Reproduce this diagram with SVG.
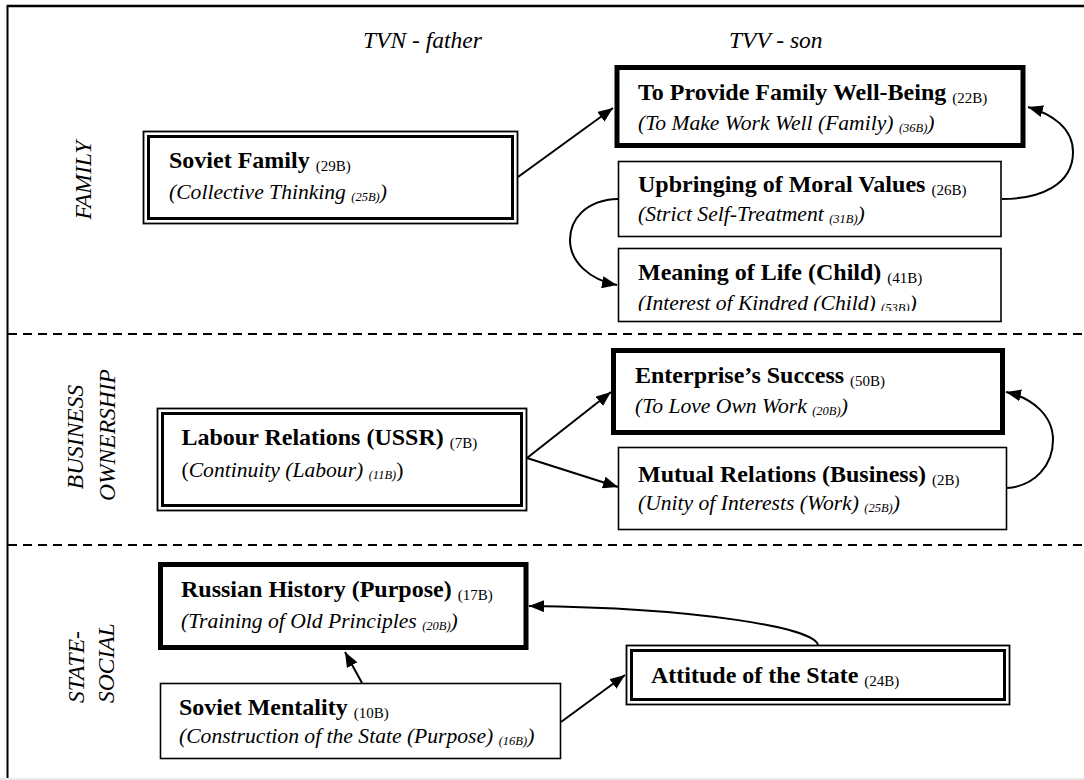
<svg xmlns="http://www.w3.org/2000/svg" width="1084" height="780" viewBox="0 0 1084 780">
<style>
text { font-family: "Liberation Serif", "Times New Roman", serif; fill: #000; }
.b { font-weight: bold; font-size: 24px; }
.s { font-size: 15px; font-style: normal; font-weight: normal; }
.i { font-style: italic; font-size: 21.6px; }
.si { font-style: italic; font-size: 12.5px; }
.up { font-style: normal; }
.lbl { font-style: italic; font-size: 23.5px; }
.thin { fill: #fff; stroke: #000; stroke-width: 1.6; }
.thick { fill: #fff; stroke: #000; stroke-width: 5; }
.dblo { fill: #fff; stroke: #000; stroke-width: 1.8; }
.dbli { fill: none; stroke: #000; stroke-width: 3; }
.con { fill: none; stroke: #000; stroke-width: 2; marker-end: url(#ah); }
.sep { stroke: #000; stroke-width: 1.8; stroke-dasharray: 9 6; }
</style>
<defs>
<marker id="ah" markerUnits="userSpaceOnUse" markerWidth="16" markerHeight="12" refX="15" refY="6" orient="auto">
<path d="M0,0 L15,6 L0,12 z" fill="#000"/>
</marker>
<clipPath id="clipMeaning"><rect x="620" y="288" width="380" height="23"/></clipPath>
</defs>
<rect x="0" y="0" width="1084" height="780" fill="#fff"/>
<rect x="0" y="778" width="1084" height="2" fill="#e9e9e9"/>
<g id="frame">
<line x1="7" y1="6" x2="1084" y2="6" stroke="#000" stroke-width="2.5"/>
<line x1="7.5" y1="5" x2="7.5" y2="778" stroke="#000" stroke-width="2"/>
<line class="sep" x1="8" y1="334" x2="1084" y2="334"/>
<line class="sep" x1="8" y1="545" x2="1084" y2="545"/>
</g>
<g id="labels">
<text class="lbl" x="363" y="48">TVN - father</text>
<text class="lbl" x="729" y="48">TVV - son</text>
<text class="lbl" text-anchor="middle" transform="translate(91,180) rotate(-90)">FAMILY</text>
<text class="lbl" text-anchor="middle" transform="translate(83,437) rotate(-90)">BUSINESS</text>
<text class="lbl" text-anchor="middle" transform="translate(115,435) rotate(-90)">OWNERSHIP</text>
<text class="lbl" transform="translate(84,703) rotate(-90)">STATE-</text>
<text class="lbl" transform="translate(114,703) rotate(-90)">SOCIAL</text>
</g>
<g id="connectors">
<path class="con" d="M518,177 L613,108"/>
<path class="con" d="M1002,199 C1040,199 1073,185 1073,152 C1073,128 1052,114 1028,107"/>
<path class="con" d="M618,199 C585,200 570,220 570,240 C570,262 590,280 617,285"/>
<path class="con" d="M527,458 L611,392"/>
<path class="con" d="M527,458 L618,487"/>
<path class="con" d="M1007,488 C1035,486 1053,465 1053,440 C1053,415 1032,398 1006,392"/>
<path class="con" d="M362,683 L345,652"/>
<path class="con" d="M561,722 L625,675"/>
<path class="con" d="M818,645 C815,628 700,608 529,606"/>
</g>
<g id="soviet-family">
<rect class="dblo" x="143.5" y="131.5" width="374" height="92"/>
<rect class="dbli" x="148.5" y="136.5" width="364" height="82"/>
<text x="169" y="168"><tspan class="b">Soviet Family </tspan><tspan class="s" dy="3">(29B)</tspan></text>
<text class="i" x="169" y="199">(Collective Thinking <tspan class="si" dy="2">(25B)</tspan><tspan dy="-2">)</tspan></text>
</g>
<g id="provide-family">
<rect class="thick" x="617" y="67.5" width="406" height="78"/>
<text x="638" y="100"><tspan class="b">To Provide Family Well-Being </tspan><tspan class="s" dy="3">(22B)</tspan></text>
<text class="i" x="638" y="130">(To Make Work Well (Family) <tspan class="si" dy="2">(36B)</tspan><tspan dy="-2">)</tspan></text>
</g>
<g id="upbringing">
<rect class="thin" x="618.5" y="161.5" width="382.5" height="75"/>
<text x="638" y="192"><tspan class="b">Upbringing of Moral Values </tspan><tspan class="s" dy="3">(26B)</tspan></text>
<text class="i" x="638" y="221">(Strict Self-Treatment <tspan class="si" dy="2">(31B)</tspan><tspan dy="-2">)</tspan></text>
</g>
<g id="meaning-of-life">
<rect class="thin" x="618.5" y="248.5" width="382.5" height="73"/>
<text x="638" y="280"><tspan class="b">Meaning of Life (Child) </tspan><tspan class="s" dy="3">(41B)</tspan></text>
<text class="i" x="638" y="310" clip-path="url(#clipMeaning)">(Interest of Kindred (Child) <tspan class="si" dy="2">(53B)</tspan><tspan dy="-2">)</tspan></text>
</g>
<g id="labour-relations">
<rect class="dblo" x="157.5" y="408.5" width="369" height="102"/>
<rect class="dbli" x="162.5" y="413.5" width="359" height="92"/>
<text x="181.5" y="445"><tspan class="b">Labour Relations (USSR) </tspan><tspan class="s" dy="3">(7B)</tspan></text>
<text class="i" x="181.5" y="477"><tspan class="up">(</tspan>Continuity (Labour) <tspan class="si" dy="2">(11B)</tspan><tspan class="up" dy="-2">)</tspan></text>
</g>
<g id="enterprise-success">
<rect class="thick" x="613.5" y="350.5" width="389" height="82"/>
<text x="635" y="383"><tspan class="b">Enterprise’s Success </tspan><tspan class="s" dy="3">(50B)</tspan></text>
<text class="i" x="635" y="413">(To Love Own Work <tspan class="si" dy="2">(20B)</tspan><tspan dy="-2">)</tspan></text>
</g>
<g id="mutual-relations">
<rect class="thin" x="618.5" y="447.5" width="388" height="82"/>
<text x="638" y="482"><tspan class="b">Mutual Relations (Business) </tspan><tspan class="s" dy="3">(2B)</tspan></text>
<text class="i" x="638" y="510">(Unity of Interests (Work) <tspan class="si" dy="2">(25B)</tspan><tspan dy="-2">)</tspan></text>
</g>
<g id="russian-history">
<rect class="thick" x="160.5" y="564.5" width="365.5" height="83"/>
<text x="181" y="597"><tspan class="b">Russian History (Purpose) </tspan><tspan class="s" dy="3">(17B)</tspan></text>
<text class="i" x="181" y="628">(Training of Old Principles <tspan class="si" dy="2">(20B)</tspan><tspan dy="-2">)</tspan></text>
</g>
<g id="soviet-mentality">
<rect class="thin" x="160.5" y="683.5" width="400" height="75"/>
<text x="179" y="715"><tspan class="b">Soviet Mentality </tspan><tspan class="s" dy="3">(10B)</tspan></text>
<text class="i" x="179" y="743">(Construction of the State (Purpose) <tspan class="si" dy="2">(16B)</tspan><tspan dy="-2">)</tspan></text>
</g>
<g id="attitude-state">
<rect class="dblo" x="626.5" y="645.5" width="383" height="59"/>
<rect class="dbli" x="631.5" y="650.5" width="373" height="49"/>
<text x="651" y="683"><tspan class="b">Attitude of the State </tspan><tspan class="s" dy="3">(24B)</tspan></text>
</g>
</svg>
